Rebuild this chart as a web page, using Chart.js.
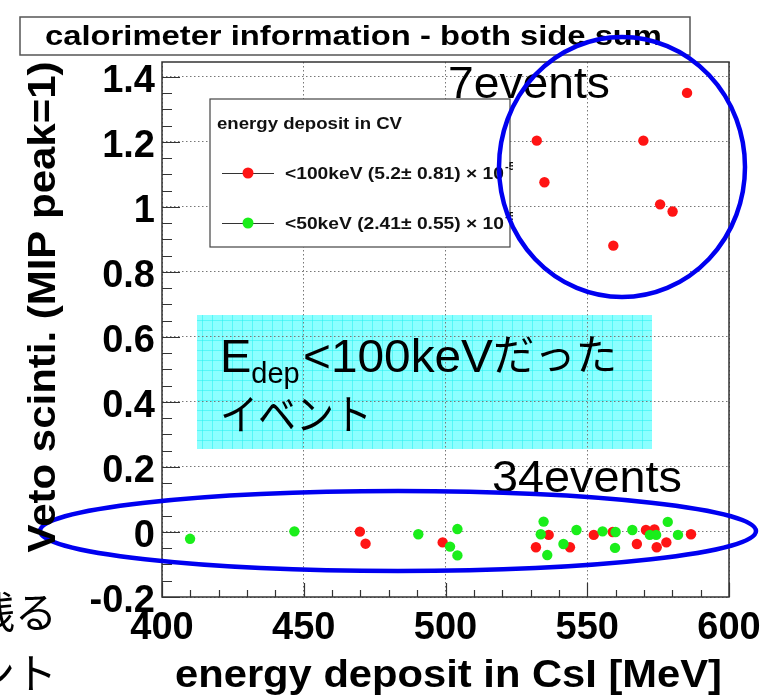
<!DOCTYPE html>
<html>
<head>
<meta charset="utf-8">
<script src="https://cdn.jsdelivr.net/npm/chart.js@4.4.1/dist/chart.umd.min.js"></script>
<style>
body { margin: 0; background: #fff; }
#wrap { width: 780px; height: 700px; position: relative; }
</style>
</head>
<body>
<div id="wrap"><canvas id="calo" width="780" height="700"></canvas></div>
<script>
// events with CV energy deposit < 100keV (red)
const redX = [585.2, 532.2, 569.8, 534.9, 575.7, 580.1, 559.2,
  469.8, 471.8, 499.0, 531.9, 536.4, 543.9, 552.3, 559.0, 567.5, 570.7, 573.7, 574.5, 577.9, 586.6];
const redY = [1.351, 1.204, 1.204, 1.076, 1.008, 0.986, 0.881,
  0.001, -0.036, -0.032, -0.047, -0.009, -0.047, -0.009, 0.000, -0.037, 0.006, 0.008, -0.047, -0.032, -0.007];

// events with CV energy deposit < 50keV (green)
const greenX = [409.9, 446.7, 490.4, 501.6, 504.2, 504.2, 533.6, 534.6, 535.9, 541.6,
  546.2, 555.4, 559.8, 560.0, 565.9, 572.1, 574.3, 578.4, 582.0];
const greenY = [-0.021, 0.002, -0.007, -0.045, 0.009, -0.072, -0.007, 0.032, -0.071, -0.037,
  0.006, 0.002, -0.049, 0.000, 0.006, -0.009, -0.009, 0.031, -0.009];

const seriesLabels = ['<100keV (5.2\u00b1 0.81) \u00d7 10', '<50keV (2.41\u00b1 0.55) \u00d7 10'];
const seriesExp = ['-5', '-5'];
const xTicks = [400, 450, 500, 550, 600];
const yTicks = [-0.2, 0, 0.2, 0.4, 0.6, 0.8, 1.0, 1.2, 1.4];

const FONT = '"Liberation Sans", Arial, sans-serif';
const JFONT = '"Liberation Sans", "Noto Sans CJK JP", sans-serif';

function toPoints(xs, ys) {
  return xs.map((x, i) => ({ x: x, y: ys[i] }));
}

// draw a string squeezed/stretched to a measured width
function fitText(ctx, str, x, y, font, w, align) {
  ctx.save();
  ctx.font = font;
  const m = ctx.measureText(str).width;
  const s = w ? w / m : 1;
  ctx.translate(x, y);
  ctx.scale(s, 1);
  ctx.textAlign = align || 'left';
  ctx.textBaseline = 'alphabetic';
  ctx.fillText(str, 0, 0);
  ctx.restore();
  return m * s;
}

const overlay = {
  id: 'overlay',
  beforeDraw(chart) {
    const ctx = chart.ctx;
    ctx.save();
    // title box
    ctx.fillStyle = '#fff';
    ctx.fillRect(20, 17, 670, 38);
    ctx.strokeStyle = '#555';
    ctx.lineWidth = 1.5;
    ctx.strokeRect(20, 17, 670, 38);
    ctx.fillStyle = '#000';
    fitText(ctx, 'calorimeter information - both side sum', 45, 45, 'bold 28px ' + FONT, 617);

    // cyan note box (under the grid)
    const bx = 197, by = 315, bw = 455, bh = 134;
    ctx.fillStyle = 'rgb(140,255,255)';
    ctx.fillRect(bx, by, bw, bh);
    ctx.strokeStyle = 'rgba(40,240,240,0.55)';
    ctx.lineWidth = 1;
    ctx.beginPath();
    for (let gx = bx + 5; gx < bx + bw; gx += 10) { ctx.moveTo(gx + 0.5, by); ctx.lineTo(gx + 0.5, by + bh); }
    for (let gy = by + 5; gy < by + bh; gy += 10) { ctx.moveTo(bx, gy + 0.5); ctx.lineTo(bx + bw, gy + 0.5); }
    ctx.stroke();
    ctx.restore();
  },
  afterDatasetsDraw(chart) {
    const ctx = chart.ctx;
    const a = chart.chartArea;
    const sx = chart.scales.x, sy = chart.scales.y;
    ctx.save();

    // text inside the cyan box
    ctx.fillStyle = '#000';
    let cx = 220;
    cx += fitText(ctx, 'E', cx, 372, '47px ' + FONT);
    fitText(ctx, 'dep', cx, 383, '29px ' + FONT);
    cx = 303;
    cx += fitText(ctx, '<100keV', cx, 372, '47px ' + FONT, 190);
    fitText(ctx, '\u3060\u3063\u305f', cx, 370, '42px ' + JFONT, 124);
    fitText(ctx, '\u30a4\u30d9\u30f3\u30c8', 220, 430, '42px ' + JFONT, 152);

    // frame
    ctx.strokeStyle = '#333';
    ctx.lineWidth = 1.5;
    ctx.strokeRect(a.left, a.top, a.right - a.left, a.bottom - a.top);

    // inner ticks
    ctx.lineWidth = 1.2;
    ctx.beginPath();
    for (let v = -0.2; v <= 1.446; v += 0.05) {
      const y = Math.round(sy.getPixelForValue(v)) + 0.5;
      const major = Math.abs(v * 5 - Math.round(v * 5)) < 1e-6;
      ctx.moveTo(a.left, y);
      ctx.lineTo(a.left + (major ? 18 : 10), y);
    }
    for (let v = 400; v <= 600; v += 10) {
      const x = Math.round(sx.getPixelForValue(v)) + 0.5;
      const major = v % 50 === 0;
      ctx.moveTo(x, a.bottom);
      ctx.lineTo(x, a.bottom - (major ? 14 : 7));
    }
    ctx.stroke();

    // legend
    const lx = 210, ly = 99, lw = 300, lh = 148;
    ctx.fillStyle = '#fff';
    ctx.fillRect(lx, ly, lw, lh);
    ctx.strokeStyle = '#444';
    ctx.lineWidth = 1.2;
    ctx.strokeRect(lx, ly, lw, lh);
    ctx.fillStyle = '#111';
    fitText(ctx, 'energy deposit in CV', 217, 129, 'bold 16px ' + FONT, 185);
    const ds = chart.data.datasets;
    ctx.save();
    ctx.beginPath();
    ctx.rect(lx, ly - 20, lw + 3, lh + 20);
    ctx.clip();
    [0, 1].forEach(k => {
      const yy = 173 + k * 50;
      ctx.strokeStyle = '#333';
      ctx.lineWidth = 1;
      ctx.beginPath();
      ctx.moveTo(222, yy + 0.5);
      ctx.lineTo(274, yy + 0.5);
      ctx.stroke();
      ctx.fillStyle = ds[k].backgroundColor;
      ctx.beginPath();
      ctx.arc(248, yy, 5.5, 0, Math.PI * 2);
      ctx.fill();
      ctx.fillStyle = '#111';
      const w = fitText(ctx, ds[k].label, 285, yy + 6, 'bold 17px ' + FONT, 219);
      fitText(ctx, seriesExp[k], 285 + w + 1, yy - 3, 'bold 11px ' + FONT);
    });
    ctx.restore();

    // annotation texts
    ctx.fillStyle = '#000';
    fitText(ctx, '7events', 448, 98, '44px ' + FONT, 162);
    fitText(ctx, '34events', 492, 492, '44px ' + FONT, 190);

    // blue rings
    ctx.strokeStyle = '#0000f0';
    ctx.lineWidth = 4.5;
    ctx.beginPath();
    ctx.ellipse(622, 167, 123, 130, 0, 0, Math.PI * 2);
    ctx.stroke();
    ctx.beginPath();
    ctx.ellipse(398, 531, 358, 40, 0, 0, Math.PI * 2);
    ctx.stroke();

    // axis titles
    ctx.fillStyle = '#000';
    fitText(ctx, 'energy deposit in CsI [MeV]', 722, 687, 'bold 38px ' + FONT, 547, 'right');
    ctx.save();
    ctx.translate(55, 307);
    ctx.rotate(-Math.PI / 2);
    fitText(ctx, 'Veto scinti. (MIP peak=1)', 0, 0, 'bold 38px ' + FONT, 491, 'center');
    ctx.restore();

    // slide text cut off at the left edge
    ctx.font = '42px "Noto Sans CJK JP", sans-serif';
    ctx.textAlign = 'right';
    ctx.textBaseline = 'middle';
    ctx.fillText('\u6b8b\u308b', 57, 612);
    ctx.fillText('\u30a4\u30d9\u30f3\u30c8', 57, 673);
    ctx.restore();
  }
};

const tickFont = { family: FONT, size: 38, weight: 'bold' };

new Chart(document.getElementById('calo').getContext('2d'), {
  type: 'scatter',
  data: {
    datasets: [
      {
        label: seriesLabels[0],
        data: toPoints(redX, redY),
        backgroundColor: '#ff1414',
        borderWidth: 0,
        pointRadius: 5.2,
        order: 1
      },
      {
        label: seriesLabels[1],
        data: toPoints(greenX, greenY),
        backgroundColor: '#1aee1a',
        borderWidth: 0,
        pointRadius: 5.2,
        order: 0
      }
    ]
  },
  options: {
    responsive: false,
    animation: false,
    layout: { padding: { top: 62, right: 51, left: 0, bottom: 0 } },
    plugins: { legend: { display: false }, tooltip: { enabled: false }, title: { display: false } },
    scales: {
      x: {
        type: 'linear',
        min: 400,
        max: 600,
        afterBuildTicks: s => { s.ticks = xTicks.map(v => ({ value: v })); },
        afterFit: s => { s.height = 103; },
        grid: { color: '#777', lineWidth: 1, drawTicks: false },
        border: { display: false, dash: [1.5, 2.5] },
        ticks: { padding: 9, color: '#000', font: tickFont, maxRotation: 0, autoSkip: false }
      },
      y: {
        type: 'linear',
        min: -0.2,
        max: 1.446,
        afterBuildTicks: s => { s.ticks = yTicks.map(v => ({ value: v })); },
        afterFit: s => { s.width = 162; },
        grid: { color: '#777', lineWidth: 1, drawTicks: false },
        border: { display: false, dash: [1.5, 2.5] },
        ticks: {
          padding: 7,
          labelOffset: 5,
          color: '#000',
          font: tickFont,
          callback: v => String(Math.round(v * 10) / 10)
        }
      }
    }
  },
  plugins: [overlay]
});
</script>
</body>
</html>
